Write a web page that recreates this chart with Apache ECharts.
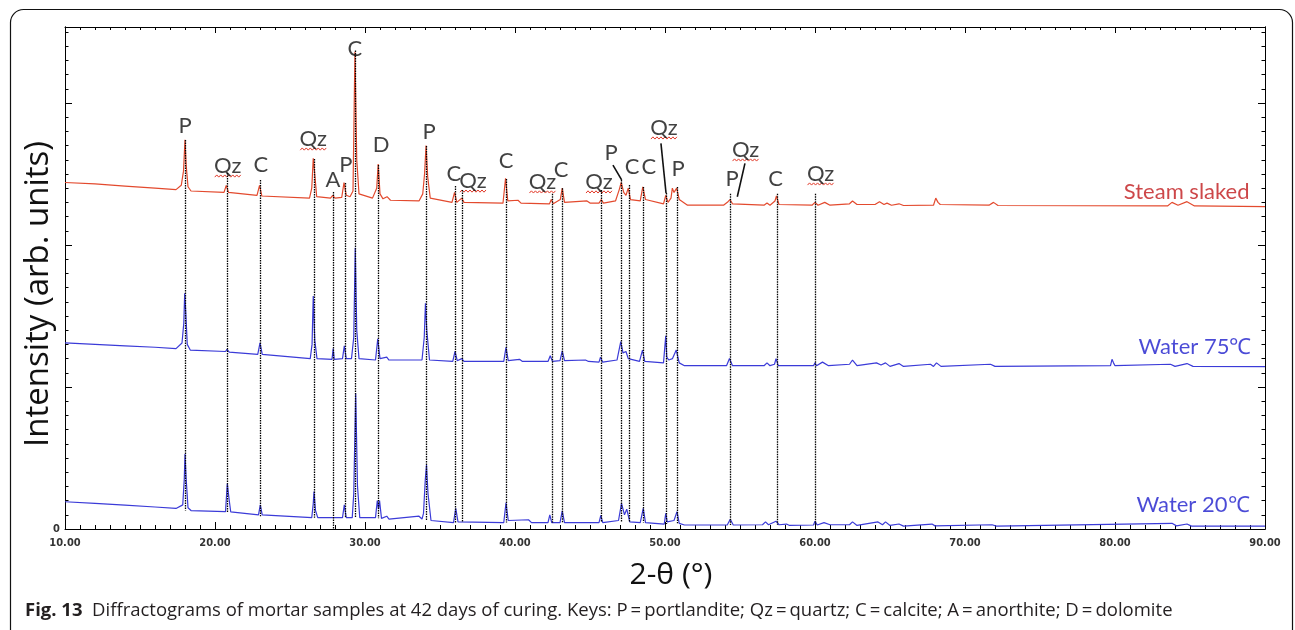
<!DOCTYPE html>
<html>
<head>
<meta charset="utf-8">
<script src="https://cdn.jsdelivr.net/npm/echarts@6/dist/echarts.min.js"></script>
<style>
html, body { margin: 0; padding: 0; background: #fff; }
#chart { width: 1295px; height: 630px; }
</style>
</head>
<body>
<div id="chart"></div>
<script>
// diffractograms: [2-theta, intensity (arb.)]
var steamSlaked = [
	[10.0, 24.4], [12.0, 24.3], [14.0, 24.15], [16.0, 24.0], [17.4, 23.9],
	[17.75, 24.2], [17.9, 25.2], [18.0, 27.4], [18.08, 25.6], [18.2, 24.1], [18.4, 23.8],
	[20.6, 23.7], [20.75, 24.2], [20.9, 23.7],
	[22.8, 23.5], [22.97, 24.2], [23.12, 23.45],
	[26.3, 23.3], [26.45, 24.0], [26.55, 26.1], [26.65, 25.0], [26.78, 23.4],
	[27.7, 23.3], [27.85, 23.5], [28.0, 23.3],
	[28.45, 23.35], [28.6, 24.4], [28.75, 23.5], [29.0, 23.4],
	[29.2, 23.8], [29.33, 33.6], [29.45, 26.0], [29.6, 23.6],
	[30.5, 23.3], [30.78, 24.0], [30.88, 25.7], [31.0, 23.6], [31.2, 23.25],
	[31.47, 23.4], [31.7, 23.15], [33.6, 23.1],
	[33.85, 23.6], [33.97, 25.0], [34.07, 27.0], [34.18, 24.8], [34.35, 23.3],
	[35.8, 23.0], [35.97, 23.7], [36.12, 23.0], [36.45, 23.3], [36.6, 23.0],
	[39.2, 22.95], [39.37, 24.7], [39.52, 23.1],
	[40.2, 23.15], [40.4, 22.95],
	[42.3, 22.9], [42.42, 23.2], [42.55, 22.9],
	[43.02, 23.2], [43.15, 24.0], [43.3, 23.0],
	[44.8, 23.1], [45.0, 22.95],
	[45.6, 22.95], [45.75, 23.2], [45.9, 22.95],
	[46.7, 23.1], [46.95, 23.9], [47.08, 24.4], [47.25, 23.7], [47.4, 23.5],
	[47.55, 24.0], [47.7, 23.2],
	[48.35, 23.1], [48.52, 24.1], [48.7, 23.2],
	[49.9, 22.9], [50.05, 23.5], [50.2, 23.0],
	[50.4, 23.3], [50.49, 24.0], [50.6, 23.7], [50.78, 24.0], [50.95, 23.2],
	[51.5, 22.8], [53.9, 22.8],
	[54.2, 23.05], [54.33, 23.2], [54.5, 22.9],
	[56.6, 22.8], [56.8, 22.95], [57.0, 22.8],
	[57.33, 23.1], [57.43, 23.45], [57.6, 22.85],
	[59.8, 22.8], [60.0, 23.0], [60.2, 22.8],
	[60.65, 23.0], [61.0, 22.8],
	[62.3, 22.9], [62.5, 23.1], [62.8, 22.85],
	[64.0, 22.85], [64.3, 23.05], [64.6, 22.85], [64.8, 22.95], [65.1, 22.8],
	[65.6, 22.9], [65.9, 22.78],
	[67.9, 22.8], [68.05, 23.3], [68.2, 23.0], [68.35, 22.85],
	[71.6, 22.8], [71.9, 23.0], [72.2, 22.78],
	[83.5, 22.75], [83.8, 23.0], [84.2, 22.8], [84.8, 23.05], [85.3, 22.75],
	[90.0, 22.7]
];

var water75 = [
	[10.0, 13.1], [12.0, 13.0], [14.0, 12.9], [16.0, 12.8], [17.4, 12.7],
	[17.8, 13.1], [17.92, 14.5], [17.98, 16.6], [18.05, 15.3], [18.15, 13.0], [18.35, 12.6],
	[20.7, 12.5], [20.8, 12.65], [20.95, 12.45],
	[22.85, 12.3], [23.0, 13.1], [23.15, 12.3],
	[26.35, 12.0], [26.47, 13.0], [26.55, 16.4], [26.65, 13.3], [26.8, 12.0],
	[27.8, 11.95], [27.88, 12.7], [27.95, 11.95],
	[28.5, 12.0], [28.62, 12.9], [28.75, 12.0],
	[29.1, 12.0], [29.25, 13.5], [29.35, 19.8], [29.45, 14.0], [29.6, 12.0],
	[30.7, 11.9], [30.85, 13.4], [31.0, 12.0],
	[31.45, 12.1], [31.6, 11.9], [33.8, 11.9],
	[33.95, 13.5], [34.03, 15.9], [34.12, 14.0], [34.3, 11.9],
	[35.85, 11.8], [36.0, 12.5], [36.15, 11.85], [36.45, 12.0], [36.6, 11.8],
	[39.25, 11.8], [39.4, 12.8], [39.55, 11.85],
	[40.3, 11.95], [40.5, 11.8],
	[42.2, 11.8], [42.35, 12.2], [42.5, 11.8],
	[43.0, 11.85], [43.15, 12.55], [43.3, 11.85],
	[44.7, 11.9], [44.9, 11.8],
	[45.6, 11.75], [45.7, 12.1], [45.85, 11.75],
	[46.8, 11.9], [47.05, 13.2], [47.2, 12.4], [47.4, 12.5], [47.55, 12.0],
	[48.3, 11.8], [48.5, 12.6], [48.65, 11.8],
	[49.9, 11.7], [50.05, 13.6], [50.12, 12.1], [50.25, 11.9], [50.5, 12.0], [50.75, 12.6], [50.95, 11.7],
	[51.3, 11.5], [54.1, 11.5], [54.3, 12.0], [54.5, 11.5],
	[56.6, 11.5], [56.8, 11.7], [57.0, 11.5],
	[57.3, 11.6], [57.4, 12.0], [57.55, 11.5],
	[59.9, 11.5], [60.0, 11.7], [60.1, 11.5],
	[60.5, 11.75], [60.9, 11.5],
	[62.3, 11.6], [62.5, 11.9], [62.8, 11.5],
	[64.1, 11.7], [64.4, 11.55], [64.7, 11.7], [65.0, 11.45], [65.6, 11.65], [65.9, 11.45],
	[67.7, 11.6], [67.9, 11.45], [68.1, 11.7], [68.4, 11.45],
	[71.7, 11.6], [72.0, 11.45],
	[79.7, 11.5], [79.8, 11.95], [79.9, 11.7], [80.0, 11.5],
	[83.7, 11.6], [84.0, 11.45], [84.8, 11.65], [85.2, 11.45],
	[90.0, 11.43]
];

var water20 = [
	[10.0, 1.92], [12.0, 1.8], [14.0, 1.68], [16.0, 1.55], [17.4, 1.45],
	[17.85, 1.7], [17.95, 3.5], [18.0, 5.28], [18.08, 3.5], [18.2, 1.5], [18.4, 1.3],
	[20.7, 1.22], [20.82, 3.2], [20.95, 2.0], [21.05, 1.2],
	[22.9, 1.0], [23.02, 1.7], [23.15, 1.0],
	[26.45, 0.8], [26.55, 1.8], [26.6, 2.63], [26.7, 1.3], [26.85, 0.8],
	[28.5, 0.8], [28.62, 1.7], [28.75, 0.8],
	[29.15, 0.8], [29.25, 2.5], [29.38, 9.55], [29.5, 3.0], [29.65, 0.8],
	[30.7, 0.8], [30.82, 2.0], [30.9, 1.4], [30.97, 2.0], [31.1, 0.75],
	[31.45, 0.9], [31.6, 0.7], [33.6, 0.9], [33.8, 0.7],
	[33.9, 1.1], [34.02, 3.5], [34.1, 4.5], [34.2, 2.5], [34.4, 0.6],
	[35.9, 0.45], [36.05, 1.46], [36.2, 0.5],
	[39.25, 0.45], [39.4, 1.85], [39.55, 0.6],
	[40.9, 0.65], [41.1, 0.45],
	[42.2, 0.45], [42.32, 1.0], [42.45, 0.45],
	[43.0, 0.45], [43.15, 1.27], [43.3, 0.45],
	[45.6, 0.45], [45.72, 0.95], [45.85, 0.45],
	[46.9, 0.6], [47.1, 1.81], [47.3, 1.0], [47.45, 1.4], [47.65, 0.5],
	[48.35, 0.45], [48.55, 1.46], [48.7, 0.45],
	[49.95, 0.35], [50.05, 1.1], [50.15, 0.5], [50.6, 0.6], [50.8, 1.22], [50.95, 0.4],
	[51.3, 0.28], [54.15, 0.28], [54.35, 0.68], [54.55, 0.28],
	[56.5, 0.3], [56.7, 0.5], [56.9, 0.3], [57.4, 0.55], [57.6, 0.3], [58.1, 0.35], [58.3, 0.25],
	[59.9, 0.28], [60.0, 0.55], [60.15, 0.28], [60.6, 0.45], [61.0, 0.3],
	[62.3, 0.3], [62.5, 0.5], [62.8, 0.25],
	[64.2, 0.5], [64.5, 0.3], [64.7, 0.5], [65.0, 0.25], [65.6, 0.35], [65.9, 0.2],
	[67.8, 0.35], [68.0, 0.22], [71.8, 0.3], [72.1, 0.2],
	[83.8, 0.4], [84.1, 0.22], [84.8, 0.35], [85.1, 0.2],
	[90.0, 0.2]
];

// dotted reference lines at the identified peaks
var refPos = [18.0, 20.8, 23.0, 26.6, 27.85, 28.65, 29.35, 30.87, 34.07, 36.0, 36.45, 39.4,
	42.45, 43.15, 45.78, 47.05, 47.6, 48.55, 50.07, 50.8, 54.33, 54.85, 57.45, 60.0];
var refTop = [27.4, 25.07, 24.58, 26.06, 23.73, 24.37, 33.7, 25.63, 26.97, 24.15, 23.87, 24.65,
	23.6, 24.0, 23.87, 24.58, 24.23, 24.08, 23.66, 24.08, 23.6, 23.38, 23.6, 23.6];
var refBottom = [1.3, 1.2, 0.9, 0.8, 0.0, 0.8, 0.8, 0.75, 0.6, 0.45, 0.5, 0.45,
	0.45, 0.45, 0.45, 0.5, 0.5, 0.45, 0.35, 0.4, 0.28, -0.5, 0.3, 0.28];

// phase keys above the peaks
var phaseText = ['P', 'Qz', 'C', 'Qz', 'A', 'P', 'C', 'D', 'P', 'C', 'Qz', 'C',
	'Qz', 'C', 'Qz', 'P', 'C', 'C', 'Qz', 'P', 'P', 'Qz', 'C', 'Qz'];
var phaseX = [18.0, 20.85, 23.05, 26.55, 27.87, 28.73, 29.33, 31.07, 34.27, 35.93, 37.2, 39.4,
	41.83, 43.07, 45.6, 46.4, 47.8, 48.93, 49.93, 50.87, 54.47, 55.37, 57.37, 60.37];
var phaseY = [28.4, 25.56, 25.63, 27.46, 24.58, 25.63, 33.8, 27.04, 27.96, 25.0, 24.5, 25.9,
	24.44, 25.28, 24.44, 26.48, 25.5, 25.5, 28.24, 25.35, 24.65, 26.69, 24.65, 25.0];

// slanted leader lines from key to peak
var leaderFrom = [[46.53, 25.63], [49.73, 27.16], [55.33, 25.75]];
var leaderTo = [[47.11, 24.58], [50.07, 23.64], [54.82, 23.4]];

var curveNames = ['Steam slaked', 'Water 75℃', 'Water 20℃'];
var curveNameX = [89.0, 89.13, 89.0];
var curveNameY = [23.73, 12.84, 1.69];

var labelFont = 'Lato, "Open Sans", sans-serif';
var tickFont = '"DejaVu Sans Condensed", "DejaVu Sans", sans-serif';
var yTop = 35.35;

var chart = echarts.init(document.getElementById('chart'));

// wavy red underline under every Qz (spell-check mark in the original)
function wavyUnderline(params, api) {
	var p = api.coord([api.value(0), api.value(1)]);
	var pts = [];
	var x0 = p[0] - 13, y0 = p[1] + 10;
	for (var k = 0; k <= 13; k++) {
		pts.push([x0 + k * 2, y0 + (k % 2 ? -1.1 : 1.1)]);
	}
	return {
		type: 'polyline',
		shape: { points: pts },
		style: { stroke: '#e23a2a', fill: null, lineWidth: 1 }
	};
}

var qzPoints = [];
phaseText.forEach(function (t, i) {
	if (t === 'Qz') qzPoints.push([phaseX[i], phaseY[i]]);
});

var refLines = refPos.map(function (x, i) {
	return [{ coord: [x, refTop[i]] }, { coord: [x, refBottom[i]] }];
});
var leaderLines = leaderFrom.map(function (a, i) {
	return [{ coord: a }, { coord: leaderTo[i] }];
});

function xAxisOf(pos, showLabel, majorLen, minorLen) {
	return {
		type: 'value', position: pos, min: 10, max: 90, interval: 10,
		axisLine: { show: true, onZero: false, lineStyle: { color: '#000', width: 1 } },
		axisTick: { show: true, inside: true, length: majorLen, lineStyle: { color: '#000' } },
		minorTick: { show: true, splitNumber: 10, length: minorLen, lineStyle: { color: '#000' } },
		axisLabel: {
			show: showLabel, margin: 9, fontFamily: tickFont, fontWeight: 'bold', fontSize: 11, color: '#333',
			formatter: function (v) { return v.toFixed(2); }
		},
		splitLine: { show: false }, minorSplitLine: { show: false }
	};
}

function yAxisOf(pos, interval, tickLen, showLabel) {
	return {
		type: 'value', position: pos, min: 0, max: yTop, interval: interval, offset: 0,
		axisLine: { show: true, onZero: false, lineStyle: { color: '#000', width: 1 } },
		axisTick: { show: true, inside: true, length: tickLen, lineStyle: { color: '#000' } },
		axisLabel: {
			show: showLabel, margin: 5, fontFamily: tickFont, fontWeight: 'bold', fontSize: 11, color: '#333',
			formatter: function (v) { return v === 0 ? '0' : ''; }
		},
		splitLine: { show: false }
	};
}

var option = {
	backgroundColor: '#fff',
	animation: false,
	grid: { left: 65, right: 30, top: 27, bottom: 101, containLabel: false, outerBoundsMode: 'none' },
	xAxis: [xAxisOf('bottom', true, 7, 4), xAxisOf('top', false, 6, 3)],
	yAxis: [
		yAxisOf('left', 10, 7, true),
		yAxisOf('left', 1, 3.5, false),
		yAxisOf('right', 10, 7, false),
		yAxisOf('right', 1, 3.5, false)
	],
	graphic: [
		{
			type: 'rect', z: 0, silent: true,
			shape: { x: 10.5, y: 9.5, width: 1282, height: 660, r: [13, 13, 0, 0] },
			style: { fill: null, stroke: '#111', lineWidth: 1.2 }
		},
		{
			type: 'text', x: 39, y: 294, rotation: Math.PI / 2,
			style: {
				text: 'Intensity (arb. units)', fontFamily: '"Open Sans", sans-serif', fontSize: 33, fill: '#111',
				textAlign: 'center', textVerticalAlign: 'middle'
			}
		},
		{
			type: 'text', x: 671, y: 575,
			style: {
				text: '2-θ (°)', fontFamily: '"Open Sans", sans-serif', fontSize: 30, fill: '#111',
				textAlign: 'center', textVerticalAlign: 'middle'
			}
		},
		{
			type: 'text', x: 25, y: 611,
			style: {
				text: '{b|Fig. 13}  Diffractograms of mortar samples at 42 days of curing. Keys: P\u2009=\u2009portlandite; Qz\u2009=\u2009quartz; C\u2009=\u2009calcite; A\u2009=\u2009anorthite; D\u2009=\u2009dolomite',
				fontFamily: '"Open Sans", sans-serif', fontSize: 18.5, fill: '#231f20',
				textVerticalAlign: 'middle',
				rich: { b: { fontFamily: '"Open Sans", sans-serif', fontSize: 18.5, fontWeight: 'bold', fill: '#231f20' } }
			}
		}
	],
	series: [
		{
			name: 'Water 20', type: 'line', data: water20, showSymbol: false, z: 2,
			lineStyle: { color: '#3b3bd8', width: 1.2 }
		},
		{
			name: 'Water 75', type: 'line', data: water75, showSymbol: false, z: 2,
			lineStyle: { color: '#3b3bd8', width: 1.2 }
		},
		{
			name: 'Steam slaked', type: 'line', data: steamSlaked, showSymbol: false, z: 2,
			lineStyle: { color: '#e34a2e', width: 1.2 }
		},
		{
			// reference lines and leader lines
			type: 'line', data: [], z: 3, silent: true,
			markLine: {
				silent: true, symbol: ['none', 'none'], animation: false,
				label: { show: false },
				lineStyle: { color: '#000', width: 1.3, type: [1.5, 1] },
				data: refLines
			}
		},
		{
			type: 'line', data: [], z: 3, silent: true,
			markLine: {
				silent: true, symbol: ['none', 'none'], animation: false,
				label: { show: false },
				lineStyle: { color: '#111', width: 1.6, type: 'solid' },
				data: leaderLines
			}
		},
		{
			type: 'scatter', z: 4, silent: true, symbolSize: 1,
			itemStyle: { color: 'rgba(0,0,0,0)' },
			data: phaseText.map(function (t, i) { return { name: t, value: [phaseX[i], phaseY[i]] }; }),
			label: {
				show: true, position: 'inside', formatter: '{b}',
				fontFamily: labelFont, fontSize: 22, color: '#111'
			}
		},
		{
			type: 'custom', z: 4, silent: true, renderItem: wavyUnderline, data: qzPoints
		},
		{
			type: 'scatter', z: 4, silent: true, symbolSize: 1,
			itemStyle: { color: 'rgba(0,0,0,0)' },
			data: curveNames.map(function (t, i) {
				return {
					name: t, value: [curveNameX[i], curveNameY[i]],
					label: { color: i === 0 ? '#c0191c' : '#1d1dcc' }
				};
			}),
			label: {
				show: true, position: 'left', distance: 0, formatter: '{b}',
				fontFamily: labelFont, fontSize: 22
			}
		}
	]
};

chart.setOption(option);
</script>
</body>
</html>
